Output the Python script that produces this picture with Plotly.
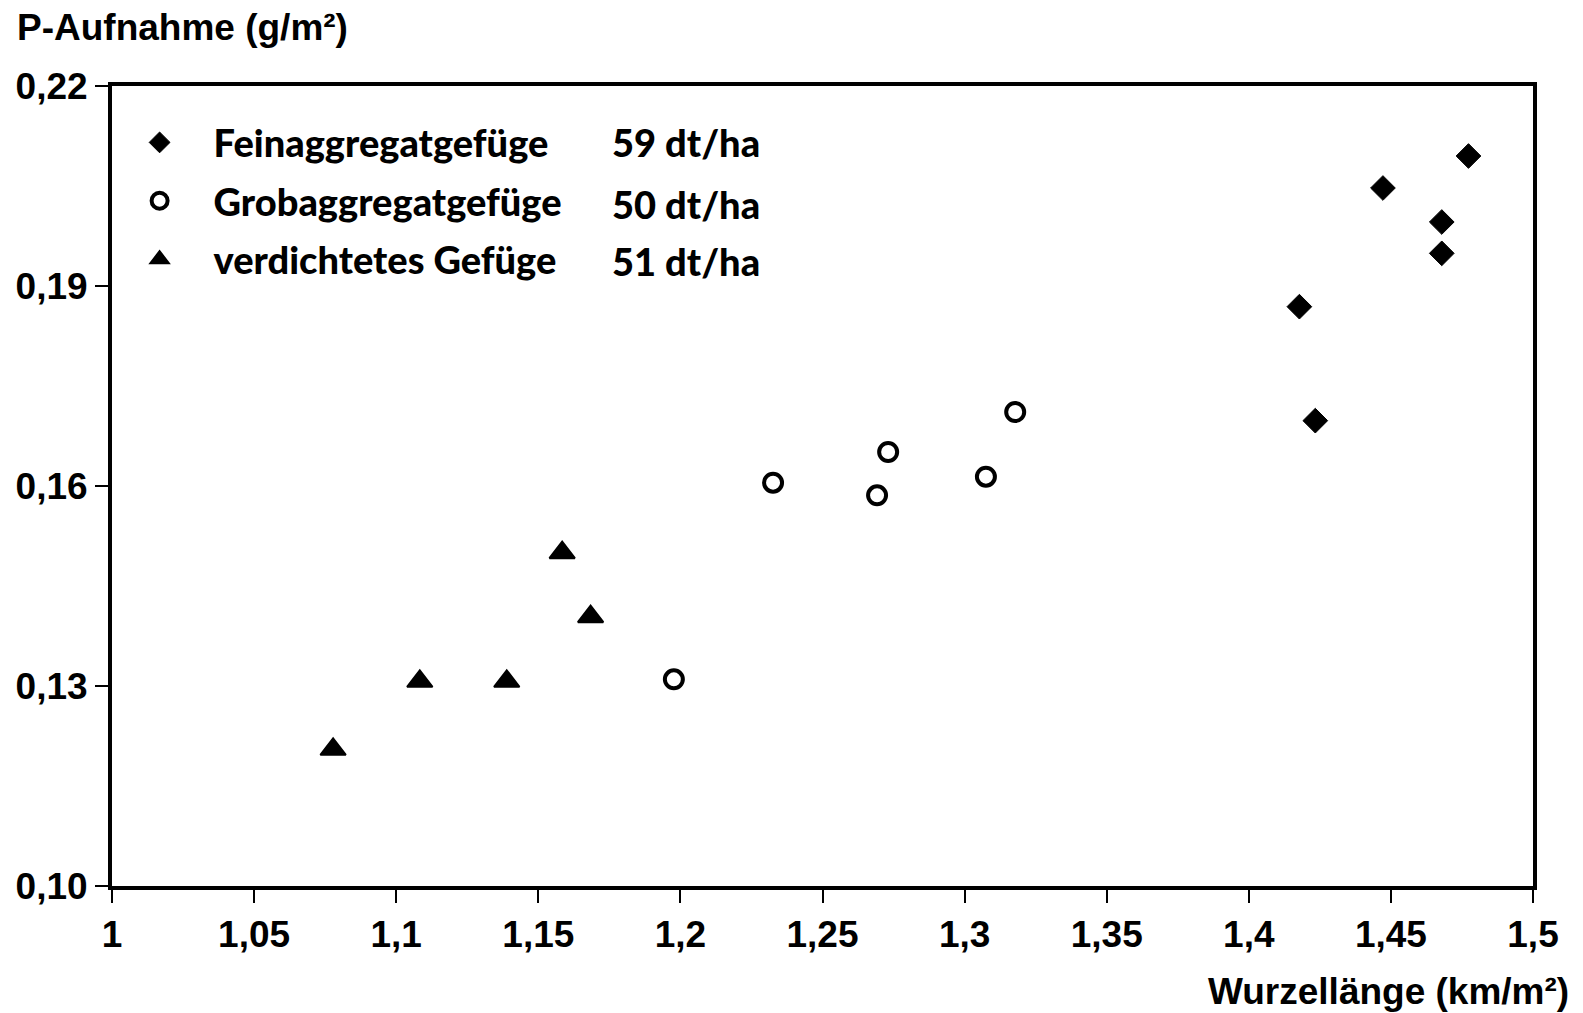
import plotly.graph_objects as go

# Wurzellänge (km/m²) und P-Aufnahme (g/m²) je Gefügeform
fein_x = [1.4773, 1.4472, 1.4679, 1.4679, 1.4178, 1.4234]
fein_y = [0.2095, 0.2047, 0.1996, 0.1949, 0.1869, 0.1698]

grob_x = [1.2326, 1.2692, 1.2731, 1.3075, 1.3178, 1.1977]
grob_y = [0.1605, 0.1586, 0.1651, 0.1614, 0.1711, 0.1310]

verd_x = [1.0778, 1.1083, 1.1389, 1.1584, 1.1684]
verd_y = [0.1205, 0.1307, 0.1307, 0.1500, 0.1404]

namen = ["Feinaggregatgefüge", "Grobaggregatgefüge", "verdichtetes Gefüge"]
ertrag = ["59 dt/ha", "50 dt/ha", "51 dt/ha"]

x_ticks = [1, 1.05, 1.1, 1.15, 1.2, 1.25, 1.3, 1.35, 1.4, 1.45, 1.5]
x_labels = ["1", "1,05", "1,1", "1,15", "1,2", "1,25", "1,3", "1,35", "1,4", "1,45", "1,5"]
y_ticks = [0.10, 0.13, 0.16, 0.19, 0.22]
y_labels = ["0,10", "0,13", "0,16", "0,19", "0,22"]

ARIAL = "Liberation Sans"
LEG_FONT = "Lato"
TXT = 37
LEG = 38

W, H = 1583, 1013
L, R, T, B = 112, 50, 86, 127
pw, ph = W - L - R, H - T - B

fig = go.Figure()
fig.add_trace(go.Scatter(
    x=fein_x, y=fein_y, mode="markers", name=namen[0], legendgroup="a",
    marker=dict(symbol="diamond", size=19, color="black", line=dict(width=1, color="black")),
))
fig.add_trace(go.Scatter(
    x=grob_x, y=grob_y, mode="markers", name=namen[1], legendgroup="b",
    marker=dict(symbol="circle", size=18, color="white", line=dict(width=4, color="black")),
))
fig.add_trace(go.Scatter(
    x=verd_x, y=verd_y, mode="markers", name=namen[2], legendgroup="c",
    marker=dict(symbol="triangle-up", size=22, color="black",
                line=dict(width=2, color="black")),
))

# Ertragsangaben als zweite Spalte der Legende
row_px = [142, 204, 261]
for txt, py in zip(ertrag, row_px):
    fig.add_annotation(
        x=(610 - L) / pw, y=1 - (py - T) / ph, xref="paper", yref="paper",
        xanchor="left", yanchor="middle", text=txt, showarrow=False,
        font=dict(family=LEG_FONT, size=LEG, color="black", weight=900),
    )

# Achsentitel
fig.add_annotation(
    x=(15 - L) / pw, y=1 + (T - 27) / ph, xref="paper", yref="paper",
    xanchor="left", yanchor="middle", text="P-Aufnahme (g/m²)", showarrow=False,
    font=dict(family=ARIAL, size=TXT, color="black", weight="bold"),
)
fig.add_annotation(
    x=(1571 - L) / pw, y=-(991 - T - ph) / ph, xref="paper", yref="paper",
    xanchor="right", yanchor="middle", text="Wurzellänge (km/m²)", showarrow=False,
    font=dict(family=ARIAL, size=TXT, color="black", weight="bold"),
)

axis_common = dict(
    showgrid=False, zeroline=False, showline=True, linecolor="black", linewidth=4,
    mirror=True, ticks="outside", tickcolor="black", tickwidth=2, ticklen=13,
    tickfont=dict(family=ARIAL, size=TXT, color="black", weight="bold"),
)

fig.update_xaxes(range=[1, 1.5], tickvals=x_ticks, ticktext=x_labels, **axis_common)
fig.update_yaxes(range=[0.10, 0.22], tickvals=y_ticks, ticktext=y_labels, **axis_common)

fig.update_layout(
    width=W, height=H,
    margin=dict(l=L, r=R, t=T, b=B),
    plot_bgcolor="white", paper_bgcolor="white",
    showlegend=True,
    legend=dict(
        x=-0.0045, y=0.9685, xanchor="left", yanchor="top",
        font=dict(family=LEG_FONT, size=LEG, color="black", weight=900),
        bgcolor="rgba(0,0,0,0)", tracegroupgap=6, itemwidth=98,
    ),
)

fig.write_html("out.html")
